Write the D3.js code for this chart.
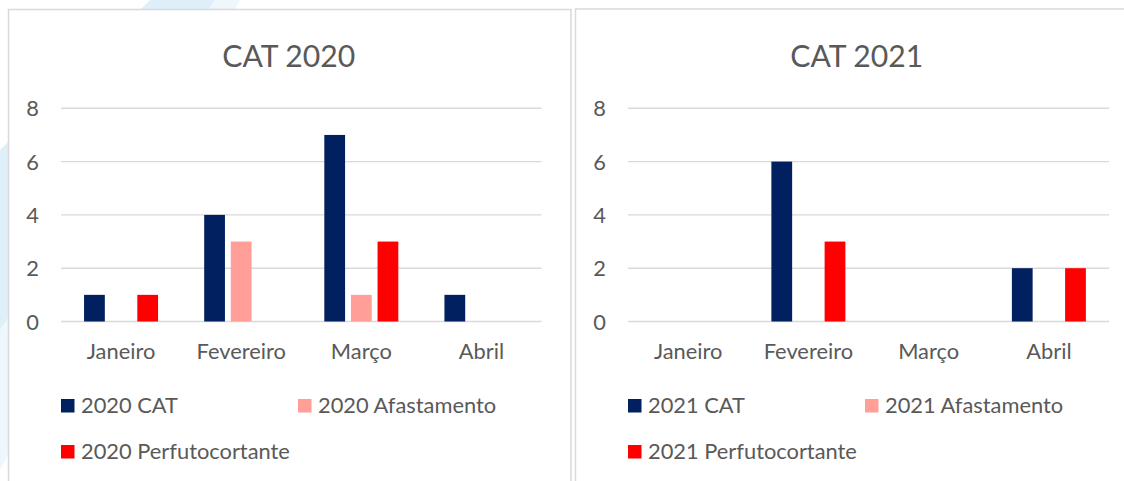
<!DOCTYPE html>
<html>
<head>
<meta charset="utf-8">
<script src="https://cdn.jsdelivr.net/npm/d3@7"></script>
<style>
  html, body { margin: 0; padding: 0; background: #ffffff; }
  svg { display: block; }
</style>
</head>
<body>
<svg id="chart" width="1124" height="481"></svg>
<script>
// ---------------- DATA ----------------
const categories = ["Janeiro", "Fevereiro", "Março", "Abril"];
const yTicks = [0, 2, 4, 6, 8];

const series2020Names = ["2020 CAT", "2020 Afastamento", "2020 Perfutocortante"];
const cat2020 = [1, 4, 7, 1];
const afastamento2020 = [0, 3, 1, 0];
const perfuto2020 = [1, 0, 3, 0];

const series2021Names = ["2021 CAT", "2021 Afastamento", "2021 Perfutocortante"];
const cat2021 = [0, 6, 0, 2];
const afastamento2021 = [0, 0, 0, 0];
const perfuto2021 = [0, 3, 0, 2];

const titles = ["CAT 2020", "CAT 2021"];
const seriesColors = ["#002060", "#FF9F97", "#FF0000"];

// ---------------- STYLE ----------------
const FONT = "Lato, 'Open Sans', sans-serif";
const TEXT_COLOR = "#595959";
const GRID_COLOR = "#D9D9D9";

const svg = d3.select("#chart");

// fit a font size so a reference string has a target width
function fitSize(str, target, family) {
  const t = svg.append("text").attr("font-family", family).attr("font-size", 100).text(str);
  const w = t.node().getComputedTextLength();
  t.remove();
  return 100 * target / w;
}
const labelSize = fitSize("2020 Perfutocortante", 209, FONT);
const titleSize = fitSize("CAT 2020", 133, FONT);

// background decorative light-blue diagonal band
const bg = svg.append("g");
bg.append("polygon")
  .attr("points", "150,0 215,0 0,330 0,150")
  .attr("fill", "#d3eaf7").attr("opacity", 0.75);
bg.append("polygon")
  .attr("points", "0,330 215,0 240,0 0,470")
  .attr("fill", "#eaf5fb").attr("opacity", 0.8);

const panels = [
  { box: [8.5, 9.5, 571, 500], plot: [61, 541.5], title: titles[0],
    names: series2020Names, values: [cat2020, afastamento2020, perfuto2020] },
  { box: [575.5, 9, 1140, 500], plot: [628, 1109], title: titles[1],
    names: series2021Names, values: [cat2021, afastamento2021, perfuto2021] }
];

const y = d3.scaleLinear().domain([0, 8]).range([321.5, 108.3]);

panels.forEach(p => {
  const g = svg.append("g");
  // panel background + border
  g.append("rect")
    .attr("x", p.box[0]).attr("y", p.box[1])
    .attr("width", p.box[2] - p.box[0]).attr("height", p.box[3] - p.box[1])
    .attr("fill", "#ffffff").attr("stroke", GRID_COLOR).attr("stroke-width", 1.5);

  // title
  g.append("text")
    .attr("x", (p.box[0] + p.box[2]) / 2 - 1)
    .attr("y", 67.3)
    .attr("text-anchor", "middle")
    .attr("font-family", FONT).attr("font-size", titleSize)
    .attr("fill", TEXT_COLOR)
    .text(p.title);

  const x0 = d3.scaleBand().domain(categories).range(p.plot).paddingInner(0).paddingOuter(0);
  const groupW = 74;
  const x1 = d3.scaleBand().domain(p.names).range([0, groupW]).paddingInner(0.22).paddingOuter(0);
  const groupOffset = (x0.bandwidth() - groupW) / 2;

  // gridlines
  g.append("g").selectAll("line").data(yTicks).join("line")
    .attr("x1", p.plot[0]).attr("x2", p.plot[1])
    .attr("y1", d => y(d)).attr("y2", d => y(d))
    .attr("stroke", GRID_COLOR).attr("stroke-width", 1.4);

  // y axis labels
  const yAxis = d3.axisLeft(y).tickValues(yTicks).tickSize(0).tickPadding(0).tickFormat(d3.format("d"));
  const ya = g.append("g").attr("transform", `translate(${p.plot[0] - 22},0)`).call(yAxis);
  ya.select(".domain").remove();
  ya.selectAll("text")
    .attr("font-family", FONT).attr("font-size", labelSize)
    .attr("fill", TEXT_COLOR).attr("dy", "0.35em");

  // x axis labels
  const xAxis = d3.axisBottom(x0).tickSize(0).tickPadding(0);
  const xa = g.append("g").attr("transform", `translate(0,359)`).call(xAxis);
  xa.select(".domain").remove();
  xa.selectAll("text")
    .attr("font-family", FONT).attr("font-size", labelSize)
    .attr("fill", TEXT_COLOR).attr("dy", 0).attr("y", 0);

  // bars
  const rows = categories.map((c, i) => ({ cat: c, vals: p.names.map((n, s) => ({ name: n, s, v: p.values[s][i] })) }));
  const groups = g.append("g").selectAll("g").data(rows).join("g")
    .attr("transform", d => `translate(${x0(d.cat) + groupOffset},0)`);
  groups.selectAll("rect").data(d => d.vals.filter(v => v.v > 0)).join("rect")
    .attr("x", d => x1(d.name))
    .attr("width", x1.bandwidth())
    .attr("y", d => y(d.v))
    .attr("height", d => y(0) - y(d.v))
    .attr("fill", d => seriesColors[d.s]);

  // legend
  const legendPos = [[0, 0], [237, 0], [0, 1]];
  const lg = g.append("g").selectAll("g").data(p.names).join("g")
    .attr("transform", (d, i) => `translate(${p.plot[0] + legendPos[i][0]},${399 + legendPos[i][1] * 46})`);
  lg.append("rect").attr("width", 13.5).attr("height", 13.5)
    .attr("fill", (d, i) => seriesColors[i]);
  lg.append("text").attr("x", 20).attr("y", 14.2)
    .attr("font-family", FONT).attr("font-size", labelSize)
    .attr("fill", TEXT_COLOR)
    .text(d => d);
});
</script>
</body>
</html>
